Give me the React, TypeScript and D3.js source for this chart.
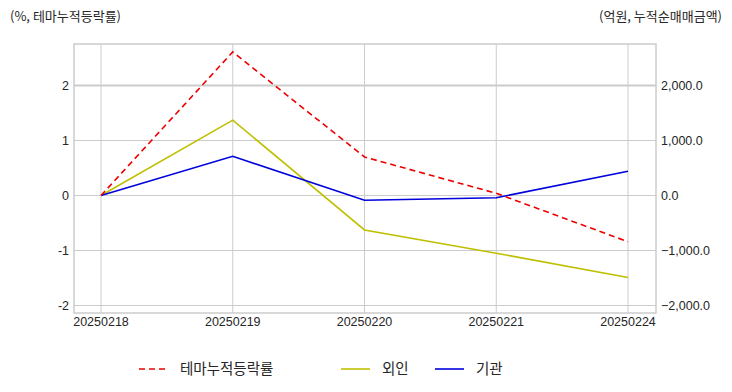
import React from "react";
import * as d3 from "d3";

const dates = ["20250218", "20250219", "20250220", "20250221", "20250224"];
const themeReturn = [0, 2.61, 0.7, 0.04, -0.84];
const foreignNet = [0, 1370, -627, -1050, -1490];
const instNet = [0, 712, -86, -40, 440];
const leftTicks = [-2, -1, 0, 1, 2];
const rightTicks = [-2000, -1000, 0, 1000, 2000];
const legendLabels = ["테마누적등락률", "외인", "기관"];

const W = 732, H = 392;
const L = 74, R = 656, T = 44, B = 313;
const FONT = "'Liberation Sans', Arial, 'Noto Sans CJK KR', sans-serif";
const KFONT = "'Noto Sans CJK KR', 'Liberation Sans', sans-serif";

export default function App() {
  const x = d3.scalePoint<string>().domain(dates).range([101, 628]);
  const yL = d3.scaleLinear().domain([-2, 2]).range([305.5, 85.5]);
  const yLfull = d3.scaleLinear().domain([yL.invert(B), yL.invert(T)]).range([B, T]);
  const yR = d3.scaleLinear().domain([yLfull.domain()[0] * 1000, yLfull.domain()[1] * 1000]).range([B, T]);
  const lineL = d3.line<number>().x((_, i) => x(dates[i])!).y((d) => yLfull(d));
  const lineR = d3.line<number>().x((_, i) => x(dates[i])!).y((d) => yR(d));
  const fmt = d3.format(",.1f");

  return (
    <svg width={W} height={H} style={{ position: "absolute", left: 0, top: 0, background: "#fff" }}>
      <rect x={0} y={0} width={W} height={H} fill="#fff" />
      {leftTicks.map((t) => (
        <line key={"h" + t} x1={L} x2={R} y1={yLfull(t)} y2={yLfull(t)} stroke="#cccccc" strokeWidth={t === 2 ? 2 : 1} />
      ))}
      {dates.map((d) => (
        <line key={"v" + d} x1={x(d)} x2={x(d)} y1={T} y2={B} stroke="#cccccc" strokeWidth={1} />
      ))}
      <rect x={L} y={T} width={R - L} height={B - T} fill="none" stroke="#cccccc" strokeWidth={1.5} />
      <path d={lineR(foreignNet)!} fill="none" stroke="#bfbf00" strokeWidth={1.6} />
      <path d={lineR(instNet)!} fill="none" stroke="#0000dd" strokeWidth={1.6} />
      <path d={lineL(themeReturn)!} fill="none" stroke="#ee0000" strokeWidth={1.6} strokeDasharray="6,4" />
      {leftTicks.map((t) => (
        <text key={"lt" + t} x={69} y={yLfull(t)} dy="0.35em" textAnchor="end" fontFamily={FONT} fontSize={12.5} fill="#262626">
          {t}
        </text>
      ))}
      {rightTicks.map((t) => (
        <text key={"rt" + t} x={661} y={yR(t)} dy="0.35em" textAnchor="start" fontFamily={FONT} fontSize={12.5} fill="#262626">
          {fmt(t)}
        </text>
      ))}
      {dates.map((d) => (
        <text key={"xt" + d} x={x(d)} y={326} textAnchor="middle" fontFamily={FONT} fontSize={12.5} fill="#262626">
          {d}
        </text>
      ))}
      <text x={10} y={21} fontFamily={KFONT} fontSize={13} fill="#262626">(%, 테마누적등락률)</text>
      <text x={722} y={21} textAnchor="end" fontFamily={KFONT} fontSize={13} fill="#262626">(억원, 누적순매매금액)</text>
      <line x1={139} x2={167} y1={369} y2={369} stroke="#ee0000" strokeWidth={1.6} strokeDasharray="6,4" />
      <text x={180} y={369} dy="0.35em" fontFamily={KFONT} fontSize={14.5} fill="#262626">{legendLabels[0]}</text>
      <line x1={341} x2={370} y1={369} y2={369} stroke="#bfbf00" strokeWidth={1.6} />
      <text x={382} y={369} dy="0.35em" fontFamily={KFONT} fontSize={14.5} fill="#262626">{legendLabels[1]}</text>
      <line x1={435} x2={464} y1={369} y2={369} stroke="#0000dd" strokeWidth={1.6} />
      <text x={476} y={369} dy="0.35em" fontFamily={KFONT} fontSize={14.5} fill="#262626">{legendLabels[2]}</text>
    </svg>
  );
}
